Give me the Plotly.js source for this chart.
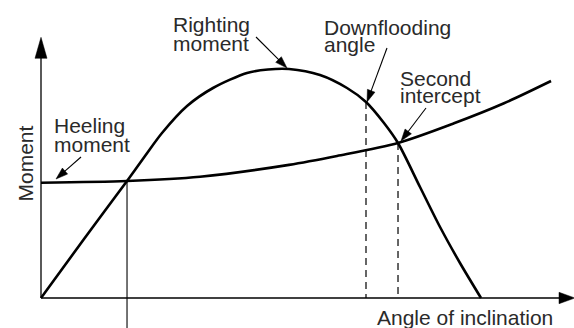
<!DOCTYPE html>
<html><head><meta charset="utf-8">
<script src="https://cdn.plot.ly/plotly-3.0.1.min.js"></script>
<style>html,body{margin:0;padding:0;background:#fff}#chart{width:574px;height:328px}</style>
</head><body><div id="chart"></div>
<script>
// ---- Data: angle of inclination (deg) and moment (relative units) ----
const rightingAngles = [0, 7.82, 15.64, 18.91, 22.0, 26.55, 31.27, 37.45, 41.27, 45.09, 50.73, 55.64, 59.09, 62.36, 64.91, 68.91, 72.55, 76.18, 80.0];
const rightingMoment = [0, 22.61, 44.83, 54.41, 63.22, 73.56, 80.46, 86.21, 87.55, 87.74, 85.44, 80.46, 75.10, 67.05, 59.39, 42.53, 27.20, 13.41, 0];
const heelingAngles = [0, 15.64, 28.91, 45.09, 53.82, 64.91, 75.09, 84.18, 92.73];
const heelingMoment = [44.18, 44.83, 46.48, 51.0, 54.41, 59.39, 66.93, 74.6, 83.14];
const equilibriumAngle = 15.64, equilibriumMoment = 44.83;
const downfloodingAngle = 59.09, downfloodingMoment = 75.10;
const secondInterceptAngle = 64.91, secondInterceptMoment = 59.39;
const axisTitleX = "Angle of inclination";
const axisTitleY = "Moment";
const labelRighting = ["Righting", "moment"];
const labelHeeling = ["Heeling", "moment"];
const labelDownflooding = ["Downflooding", "angle"];
const labelSecond = ["Second", "intercept"];

// ---- Geometry (pixels) ----
const W = 574, H = 328;
const ORX = 41, ORY = 298, PX_PER_X = 5.5, PX_PER_Y = 2.61;
const px2x = p => (p - ORX) / PX_PER_X;
const px2y = p => (ORY - p) / PX_PER_Y;
const xRange = [px2x(0), px2x(W)];
const yRange = [px2y(H), px2y(0)];

const FONT = {family: "Liberation Sans, Arial, Helvetica, sans-serif", size: 21, color: "#2a2a2a"};

function arrow(tail, tip, len, hw, width) {
  const dx = tip[0] - tail[0], dy = tip[1] - tail[1];
  const d = Math.hypot(dx, dy), ux = dx / d, uy = dy / d;
  const bx = tip[0] - ux * len, by = tip[1] - uy * len;
  const p1 = [bx - uy * hw, by + ux * hw], p2 = [bx + uy * hw, by - ux * hw];
  return [
    {type: "line", xref: "x", yref: "y", x0: px2x(tail[0]), y0: px2y(tail[1]),
     x1: px2x(bx + ux * 2), y1: px2y(by + uy * 2), line: {color: "#000", width: width}},
    {type: "path", xref: "x", yref: "y",
     path: `M${px2x(tip[0])},${px2y(tip[1])} L${px2x(p1[0])},${px2y(p1[1])} L${px2x(p2[0])},${px2y(p2[1])} Z`,
     fillcolor: "#000", line: {color: "#000", width: 0.5}}
  ];
}

function textLines(lines, left, baseline, spacing) {
  return lines.map((t, i) => ({
    x: px2x(left - 2), y: px2y(baseline + i * spacing - 7.3), xref: "x", yref: "y",
    xanchor: "left", yanchor: "middle", text: t, showarrow: false, font: FONT
  }));
}

const lineStyle = {color: "#000", width: 2.6, shape: "spline", smoothing: 0.8};
const traces = [
  {x: rightingAngles, y: rightingMoment, mode: "lines", line: lineStyle},
  {x: heelingAngles, y: heelingMoment, mode: "lines", line: lineStyle},
  {x: [equilibriumAngle, equilibriumAngle], y: [equilibriumMoment, yRange[0]], mode: "lines",
   line: {color: "#000", width: 1.1}},
  {x: [downfloodingAngle, downfloodingAngle], y: [downfloodingMoment, 0], mode: "lines",
   line: {color: "#000", width: 1.2, dash: "7px,5px"}},
  {x: [secondInterceptAngle, secondInterceptAngle], y: [secondInterceptMoment, 0], mode: "lines",
   line: {color: "#000", width: 1.2, dash: "7px,5px"}}
];

const shapes = [].concat(
  arrow([ORX, ORY], [ORX, 37.3], 21, 6, 1.3),
  arrow([ORX, ORY], [575, ORY], 16, 5.7, 1.3),
  arrow([256, 37], [287, 68], 12, 4, 1.1),
  arrow([81, 157], [56, 179], 12, 4, 1.1),
  arrow([387, 48], [367, 102], 12, 4, 1.1),
  arrow([426, 108], [401, 141], 12, 4, 1.1)
);

const annotations = [].concat(
  textLines(labelRighting, 173, 32, 18.5),
  textLines(labelHeeling, 54, 133, 18.5),
  textLines(labelDownflooding, 324, 35, 17),
  textLines(labelSecond, 400, 86, 16.5),
  textLines([axisTitleX], 377, 325, 0),
  [{x: px2x(25), y: px2y(163.5), xref: "x", yref: "y", text: axisTitleY, textangle: -90,
    xanchor: "center", yanchor: "middle", showarrow: false, font: FONT}]
);

const layout = {
  width: W, height: H, margin: {l: 0, r: 0, t: 0, b: 0, pad: 0},
  paper_bgcolor: "#fff", plot_bgcolor: "#fff", showlegend: false,
  xaxis: {range: xRange, visible: false, fixedrange: true},
  yaxis: {range: yRange, visible: false, fixedrange: true},
  shapes: shapes, annotations: annotations
};
Plotly.newPlot("chart", traces, layout, {staticPlot: true, displayModeBar: false});
</script></body></html>
